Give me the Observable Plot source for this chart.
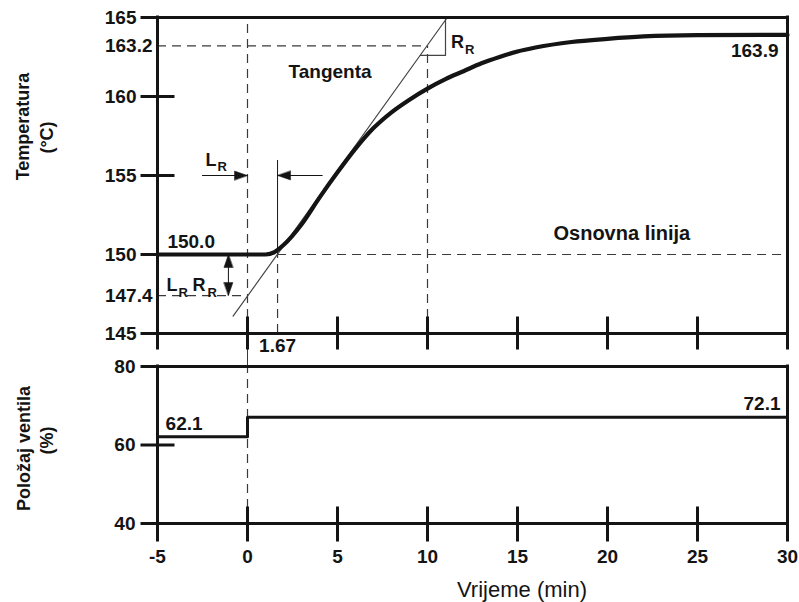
<!DOCTYPE html>
<html><head><meta charset="utf-8">
<script src="https://cdn.jsdelivr.net/npm/d3@7"></script>
<script src="https://cdn.jsdelivr.net/npm/@observablehq/plot@0.6"></script>
<style>
body{margin:0;background:#fff;}
#wrap{position:relative;width:799px;height:602px;font-family:"Liberation Sans",Arial,sans-serif;}
#wrap svg{position:absolute;left:0;}
</style></head><body><div id="wrap"></div>
<script>
// ---------- data ----------
const timeTicks = [-5, 0, 5, 10, 15, 20, 25, 30];
const timeTickLabels = ["-5", "0", "5", "10", "15", "20", "25", "30"];
const innerTimeTicks = [0, 5, 10, 15, 20, 25];
const tempTicks = [165, 160, 155, 150, 145];
const tempInnerTicks = [160, 155, 150];
const tempExtraTicks = [163.2, 147.4];
const valveTicks = [80, 60, 40];
const valveInnerTicks = [60];

const tempTime  = [-5, 0, 1, 1.5, 2, 3, 4, 5, 6, 7, 8, 9, 10, 11, 12, 13, 14, 15, 16, 18, 20, 22, 25, 30];
const tempValue = [150, 150, 150, 150.15, 150.6, 151.9, 153.6, 155.2, 156.7, 158.0, 159.0, 159.8, 160.5, 161.1, 161.6, 162.1, 162.5, 162.85, 163.1, 163.45, 163.65, 163.8, 163.88, 163.9];

const valveTime  = [-5, 0, 30];
const valveValue = [62.1, 67.1, 67.1];          // drawn level as it appears in the figure
const valveLabels = ["62.1", "72.1"];

const tangentTime  = [-0.8, 11.1];
const tangentValue = [146.1, 165];
const rrTime  = [9.6, 11.0, 11.0];
const rrValue = [162.6, 162.6, 165];

const baseTemp = 150.0, finalTemp = 163.9, deadTime = 1.67, tanAtZero = 147.4, tanAt10 = 163.2, stepTime = 0, tau = 10;
const lrArrowLevel = 155, lrLeftStart = -2.5, lrRightStart = 4.2, lrrArrowTime = -1.06, deadMarkTop = 155.95;

const temp = tempTime.map((t, i) => ({t, v: tempValue[i]}));
const valve = valveTime.map((t, i) => ({t, v: valveValue[i]}));
const tangent = tangentTime.map((t, i) => ({t, v: tangentValue[i]}));
const rr = rrTime.map((t, i) => ({t, v: rrValue[i]}));

// ---------- layout ----------
const W = 799, ML = 157, MR = 12;
const PW = W - ML - MR;
const H1 = 355, MT1 = 17, MB1 = 22, PH1 = H1 - MT1 - MB1;
const H2 = 247, MT2 = 11, MB2 = 79, PH2 = H2 - MT2 - MB2;
const INK = "#141414", DASH = "#3a3a3a";
const FONT = "Liberation Sans, Arial, sans-serif";

const dashed = {stroke: DASH, strokeWidth: 1.2, strokeDasharray: "9,6"};
const thick = {stroke: INK, strokeWidth: 3, strokeLinecap: "square"};
const tri = {draw(ctx, l) { ctx.moveTo(0, -l); ctx.lineTo(-4.5, 0); ctx.lineTo(4.5, 0); ctx.closePath(); }};
const head = (data) => Plot.vector(data, {x: "t", y: "v", rotate: "r", length: 13, anchor: "end", shape: tri, fill: INK, stroke: INK, strokeWidth: 0.5});
const txt = (t, v, text, o = {}) => Plot.text([{t, v, text}], {x: "t", y: "v", text: "text", fill: INK, fontSize: 19, fontWeight: "bold", textAnchor: "start", lineAnchor: "bottom", ...o});
const yTitle = (text, dx, dy) => Plot.text([text], {text: d => d, frameAnchor: "left", rotate: -90, dx, dy, textAnchor: "middle", lineAnchor: "middle", fontSize: 18, fontWeight: "bold", fill: INK});

const topPlot = Plot.plot({
  width: W, height: H1, marginLeft: ML, marginRight: MR, marginTop: MT1, marginBottom: MB1,
  x: {domain: [-5, 30], axis: null},
  y: {domain: [145, 165], axis: null},
  style: {fontFamily: FONT, background: "transparent", overflow: "visible"},
  marks: [
    // dashed guides
    Plot.ruleY([tanAt10], {x1: -5, x2: tau, ...dashed}),
    Plot.ruleX([tau], {y1: 145, y2: tanAt10, ...dashed}),
    Plot.ruleY([baseTemp], {x1: deadTime, x2: 30, ...dashed}),
    Plot.ruleX([deadTime], {y1: 145, y2: baseTemp, ...dashed}),
    Plot.ruleY([tanAtZero], {x1: -5, x2: stepTime, ...dashed}),
    Plot.ruleX([stepTime], {y1: 145, y2: 165, ...dashed}),
    Plot.ruleX([stepTime], {insetTop: PH1, insetBottom: -MB1, stroke: DASH, strokeWidth: 1}),
    Plot.ruleX([deadTime], {y1: baseTemp, y2: deadMarkTop, stroke: INK, strokeWidth: 1}),
    // tangent and R_R triangle
    Plot.line(tangent, {x: "t", y: "v", stroke: "#444", strokeWidth: 1.2}),
    Plot.line(rr, {x: "t", y: "v", stroke: "#444", strokeWidth: 1.2}),
    // arrows
    Plot.ruleY([lrArrowLevel], {x1: lrLeftStart, x2: stepTime, stroke: INK, strokeWidth: 1}),
    Plot.ruleY([lrArrowLevel], {x1: deadTime, x2: lrRightStart, stroke: INK, strokeWidth: 1}),
    Plot.ruleX([lrrArrowTime], {y1: tanAtZero, y2: baseTemp, stroke: INK, strokeWidth: 1}),
    head([{t: stepTime, v: lrArrowLevel, r: 90}, {t: deadTime, v: lrArrowLevel, r: -90},
          {t: lrrArrowTime, v: baseTemp, r: 0}, {t: lrrArrowTime, v: tanAtZero, r: 180}]),
    // response curve
    Plot.line(temp, {x: "t", y: "v", curve: "monotone-x", stroke: INK, strokeWidth: 4.2, strokeLinejoin: "round"}),
    // frame and ticks
    Plot.ruleY([165, 145], {insetLeft: -15, ...thick}),
    Plot.ruleX([-5], {insetBottom: -15, ...thick}),
    Plot.ruleX([30], {insetBottom: -15, ...thick}),
    Plot.tickY(tempInnerTicks, {y: d => d, insetLeft: -15, insetRight: PW - 16, ...thick}),
    Plot.tickX(innerTimeTicks, {x: d => d, insetTop: PH1 - 15, insetBottom: -15, ...thick}),
    // tick labels
    Plot.text(tempTicks, {y: d => d, text: d => String(d), frameAnchor: "left", dx: -21, textAnchor: "end", lineAnchor: "middle", fontSize: 19, fontWeight: "bold", fill: INK}),
    Plot.text(tempExtraTicks, {y: d => d, text: d => d.toFixed(1), frameAnchor: "left", dx: -5, textAnchor: "end", lineAnchor: "middle", fontSize: 19, fontWeight: "bold", fill: INK}),
    Plot.text([deadTime], {x: d => d, text: d => String(d), frameAnchor: "bottom", dy: 12, textAnchor: "middle", lineAnchor: "middle", fontSize: 19, fontWeight: "bold", fill: INK}),
    // axis title
    yTitle("Temperatura", -134, -49),
    yTitle("(°C)", -110, -38),
    // annotations
    txt(-4.45, baseTemp, baseTemp.toFixed(1), {dy: -7}),
    txt(30, finalTemp, finalTemp.toFixed(1), {textAnchor: "end", lineAnchor: "top", dx: -9, dy: 9}),
    txt(2.28, 161.14, "Tangenta"),
    txt(17, 150.89, "Osnovna linija", {fontSize: 20}),
    txt(-2.33, 155.57, "L", {fontSize: 18}),
    txt(-2.33, 155.57, "R", {fontSize: 13, dx: 12, dy: 5}),
    txt(-4.5, 147.68, "L", {fontSize: 18}),
    txt(-4.5, 147.68, "R", {fontSize: 13, dx: 12, dy: 6}),
    txt(-4.5, 147.68, "R", {fontSize: 18, dx: 26}),
    txt(-4.5, 147.68, "R", {fontSize: 13, dx: 41, dy: 6}),
    txt(11.3, 163.1, "R", {fontSize: 18}),
    txt(11.3, 163.1, "R", {fontSize: 13, dx: 14, dy: 6})
  ]
});

const botPlot = Plot.plot({
  width: W, height: H2, marginLeft: ML, marginRight: MR, marginTop: MT2, marginBottom: MB2,
  x: {domain: [-5, 30], axis: null},
  y: {domain: [40, 80], axis: null},
  style: {fontFamily: FONT, background: "transparent", overflow: "visible"},
  marks: [
    Plot.ruleX([stepTime], {y1: 40, y2: 80, ...dashed}),
    Plot.ruleX([stepTime], {insetTop: -MT2, insetBottom: PH2, stroke: DASH, strokeWidth: 1}),
    Plot.line(valve, {x: "t", y: "v", curve: "step-after", stroke: INK, strokeWidth: 3}),
    Plot.ruleY([80, 40], {insetLeft: -15, ...thick}),
    Plot.ruleX([-5], {insetBottom: -17, ...thick}),
    Plot.ruleX([30], {insetBottom: -17, ...thick}),
    Plot.tickY(valveInnerTicks, {y: d => d, insetLeft: -15, insetRight: PW - 16, ...thick}),
    Plot.tickX(innerTimeTicks, {x: d => d, insetTop: PH2 - 15, insetBottom: -17, ...thick}),
    Plot.text(valveTicks, {y: d => d, text: d => String(d), frameAnchor: "left", dx: -22, textAnchor: "end", lineAnchor: "middle", fontSize: 19, fontWeight: "bold", fill: INK}),
    Plot.text(timeTicks, {x: d => d, text: (d, i) => timeTickLabels[i], frameAnchor: "bottom", dy: 33, textAnchor: "middle", lineAnchor: "middle", fontSize: 19, fontWeight: "bold", fill: INK}),
    Plot.text(["Vrijeme (min)"], {x: () => 15.25, text: d => d, frameAnchor: "bottom", dy: 66, textAnchor: "middle", lineAnchor: "middle", fontSize: 22, fill: INK}),
    yTitle("Položaj ventila", -133, 3.5),
    yTitle("(%)", -110, -4.5),
    txt(-4.55, valveValue[0], valveLabels[0], {dy: -7}),
    txt(30, valveValue[2], valveLabels[1], {textAnchor: "end", dx: -7, dy: -7})
  ]
});

const wrap = document.getElementById("wrap");
topPlot.style.top = "0px";
botPlot.style.top = H1 + "px";
wrap.appendChild(topPlot);
wrap.appendChild(botPlot);
</script></body></html>
